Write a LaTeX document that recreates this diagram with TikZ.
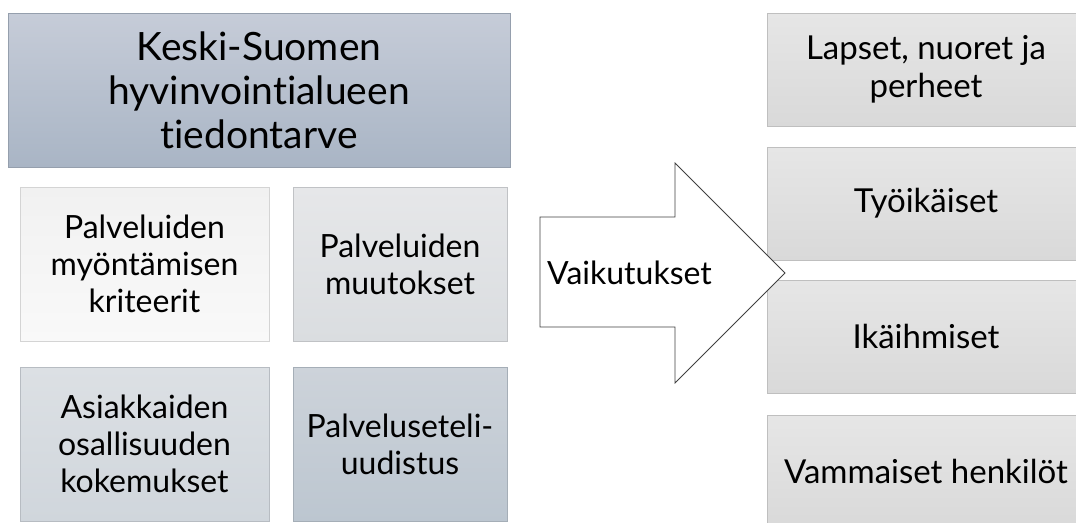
\documentclass[tikz,border=0pt]{standalone}
\usepackage{fontspec}
\setmainfont{Lato}[Ligatures={NoCommon,NoRequired,NoContextual}]
\begin{document}
\begin{tikzpicture}[x=1pt,y=-1pt,
  box/.style={rectangle, inner sep=0pt, align=center, text=black, draw=#1!88!black, line width=0.5pt},
  bigtxt/.style={font=\fontsize{39}{44}\selectfont},
  midtxt/.style={font=\fontsize{32}{37}\selectfont},
  rtxt/.style={font=\fontsize{33}{38}\selectfont},
]
\useasboundingbox (0,0) rectangle (1076,522);
\clip (0,0) rectangle (1076,522);
\definecolor{topA}{HTML}{C6CCD8}
\definecolor{topB}{HTML}{A9B5C5}
\definecolor{aA}{HTML}{F1F1F1}
\definecolor{aB}{HTML}{F9F9F9}
\definecolor{bA}{HTML}{E6E7E9}
\definecolor{bB}{HTML}{DADDE0}
\definecolor{cA}{HTML}{DCE0E4}
\definecolor{cB}{HTML}{D0D6DC}
\definecolor{dA}{HTML}{CDD3DA}
\definecolor{dB}{HTML}{BCC6D0}
\definecolor{rA}{HTML}{E6E6E6}
\definecolor{rB}{HTML}{D9D9D9}

\node[box=topB, top color=topA, bottom color=topB, minimum width=502, minimum height=154, bigtxt] (top) at (259,90) {Keski-Suomen\\hyvinvointialueen\\tiedontarve};
\node[box=aA, top color=aA, bottom color=aB, minimum width=249, minimum height=154, midtxt] (a) at (144.5,264) {Palveluiden\\myöntämisen\\kriteerit};
\node[box=bB, top color=bA, bottom color=bB, minimum width=214, minimum height=154, midtxt] (b) at (400,264) {Palveluiden\\muutokset};
\node[box=cB, top color=cA, bottom color=cB, minimum width=249, minimum height=154, midtxt] (c) at (144.5,444) {Asiakkaiden\\osallisuuden\\kokemukset};
\node[box=dB, top color=dA, bottom color=dB, minimum width=214, minimum height=154, midtxt] (d) at (400,444) {Palveluseteli-\\uudistus};

\node[box=rB, top color=rA, bottom color=rB, minimum width=318, minimum height=113, rtxt] (r1) at (926,69.5) {Lapset, nuoret ja\\perheet};
\node[box=rB, top color=rA, bottom color=rB, minimum width=318, minimum height=113, rtxt] (r2) at (926,203.5) {Työikäiset};
\node[box=rB, top color=rA, bottom color=rB, minimum width=318, minimum height=113, rtxt] (r3) at (926,336.5) {Ikäihmiset};
\node[box=rB, top color=rA, bottom color=rB, minimum width=318, minimum height=113, rtxt] (r4) at (926,471.5) {Vammaiset henkilöt};

\draw[black!75, line width=0.8pt, fill=white] (540,217) -- (675,217) -- (675,163) -- (785,273) -- (675,383) -- (675,327) -- (540,327) -- cycle;
\node[midtxt, anchor=west, inner sep=0pt] (v) at (547,273) {Vaikutukset};
\end{tikzpicture}
\end{document}
